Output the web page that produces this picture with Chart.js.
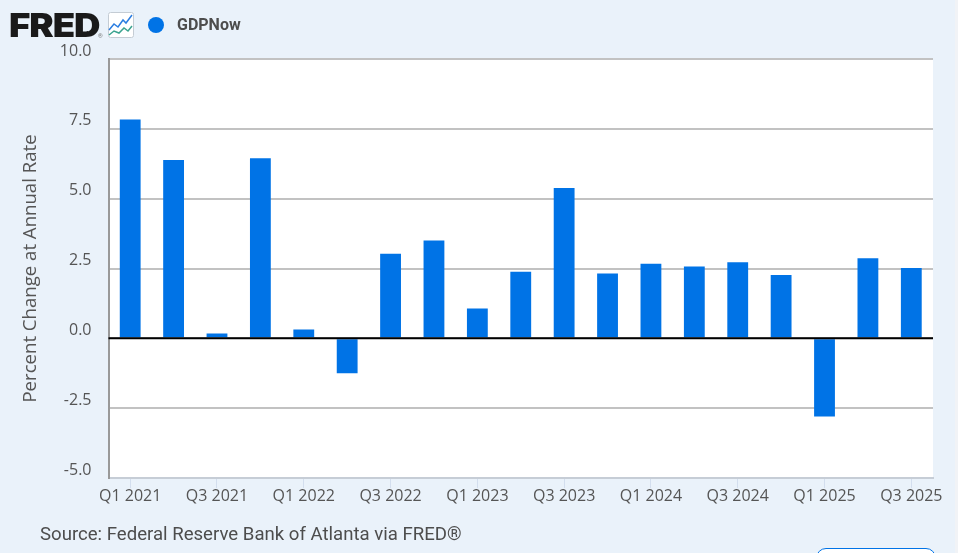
<!DOCTYPE html>
<html>
<head>
<meta charset="utf-8">
<script src="https://cdn.jsdelivr.net/npm/chart.js@4"></script>
<style>
  html, body { margin: 0; padding: 0; background: #fff; }
  #wrap { position: relative; width: 958px; height: 553px; background: #eaf2fa; overflow: hidden; }
  #edge { position: absolute; left: 955px; top: 0; width: 3px; height: 553px; background: #f1f3f6; }
  #chart { position: absolute; left: 0; top: 0; }
  #logo { position: absolute; left: 9px; top: 6px; font: 900 33px Inter, sans-serif; letter-spacing: -1px; color: #1a1a1a; line-height: 38px; transform: scaleX(1.11); transform-origin: left center; }
  #reg { position: absolute; left: 98px; top: 32px; font: 6px Roboto, sans-serif; color: #777; }
  #icon { position: absolute; left: 107px; top: 12px; }
  #dot { position: absolute; left: 148px; top: 17px; width: 16px; height: 16px; border-radius: 50%; background: #0073e6; }
  #legend { position: absolute; left: 177px; top: 16px; font: bold 16px Roboto, sans-serif; color: #4d4d4d; line-height: 18px; }
  #source { position: absolute; left: 40px; top: 524px; font: 18.6px Roboto, sans-serif; color: #4d4d4d; line-height: 20px; }
  #btn { position: absolute; left: 816px; top: 548px; width: 118px; height: 20px; border: 1.5px solid #0073e6; border-radius: 10px; background: #fff; }
</style>
</head>
<body>
<div id="wrap">
  <canvas id="chart" width="958" height="553"></canvas>
  <div id="edge"></div>
  <div id="logo">FRED</div>
  <div id="reg">®</div>
  <svg id="icon" width="27" height="27" viewBox="0 0 27 27">
    <rect x="1.5" y="0.5" width="25" height="25" rx="2" fill="#fff" stroke="#c4ccd4"/>
    <polyline points="2,18 7,12 11,15 16,8 19,11 25,3" fill="none" stroke="#2a7de1" stroke-width="1.5"/>
    <polyline points="2,23 7,19 12,21 17,16 21,19 25,14" fill="none" stroke="#3aa38f" stroke-width="1.5"/>
  </svg>
  <div id="dot"></div>
  <div id="legend">GDPNow</div>
  <div id="source">Source: Federal Reserve Bank of Atlanta via FRED®</div>
  <div id="btn"></div>
</div>
<script>
const quarters = ['Q1 2021','Q2 2021','Q3 2021','Q4 2021','Q1 2022','Q2 2022','Q3 2022','Q4 2022','Q1 2023','Q2 2023','Q3 2023','Q4 2023','Q1 2024','Q2 2024','Q3 2024','Q4 2024','Q1 2025','Q2 2025','Q3 2025'];
const gdpNow = [7.83, 6.38, 0.17, 6.45, 0.32, -1.25, 3.03, 3.5, 1.07, 2.38, 5.38, 2.32, 2.67, 2.57, 2.72, 2.27, -2.8, 2.87, 2.52];

// FRED draws the zero line on top of the bars
const zeroLine = {
    id: 'zeroLine',
    afterDatasetsDraw(chart) {
        const y = chart.scales.y.getPixelForValue(0);
        const c = chart.ctx;
        c.save();
        c.strokeStyle = '#000';
        c.lineWidth = 2;
        c.beginPath();
        c.moveTo(chart.chartArea.left, y);
        c.lineTo(chart.chartArea.right, y);
        c.stroke();
        c.restore();
    }
};

new Chart(document.getElementById('chart').getContext('2d'), {
    type: 'bar',
    data: {
        labels: quarters,
        datasets: [{ label: 'GDPNow', data: gdpNow, backgroundColor: '#0073e6', barPercentage: 0.48, categoryPercentage: 1 }]
    },
    options: {
        responsive: false,
        animation: false,
        layout: { padding: { top: 59, right: 25, bottom: 0, left: 0 } },
        plugins: {
            legend: { display: false },
            tooltip: { enabled: false }
        },
        scales: {
            x: {
                offset: true,
                afterBuildTicks(scale) { scale.ticks = scale.ticks.filter((t, i) => i % 2 === 0); },
                afterFit(scale) { scale.height = 75; },
                border: { color: '#c6cdd6', width: 2 },
                grid: { offset: false, drawOnChartArea: false, color: '#d3deee', tickColor: '#d3deee', tickLength: 10, lineWidth: 1 },
                ticks: { autoSkip: false, maxRotation: 0, minRotation: 0, padding: -1, color: '#555', font: { family: 'Open Sans', size: 16 } }
            },
            y: {
                min: -5,
                max: 10,
                afterFit(scale) { scale.width = 108.5; },
                border: { color: '#999', width: 2 },
                grid: { color: '#c2c2c2', lineWidth: 2, drawTicks: false },
                ticks: { stepSize: 2.5, padding: 17, align: 'end', color: '#555', font: { family: 'Open Sans', size: 16 }, callback: v => v.toFixed(1) },
                title: { display: true, text: 'Percent Change at Annual Rate', color: '#555', font: { family: 'Open Sans', size: 18.6 }, padding: { top: 20, bottom: 0 } }
            }
        }
    },
    plugins: [{
        id: 'plotBg',
        beforeDraw(chart) {
            const a = chart.chartArea;
            chart.ctx.fillStyle = '#fff';
            chart.ctx.fillRect(a.left, a.top, a.right - a.left, a.bottom - a.top);
        }
    }, zeroLine]
});
</script>
</body>
</html>
